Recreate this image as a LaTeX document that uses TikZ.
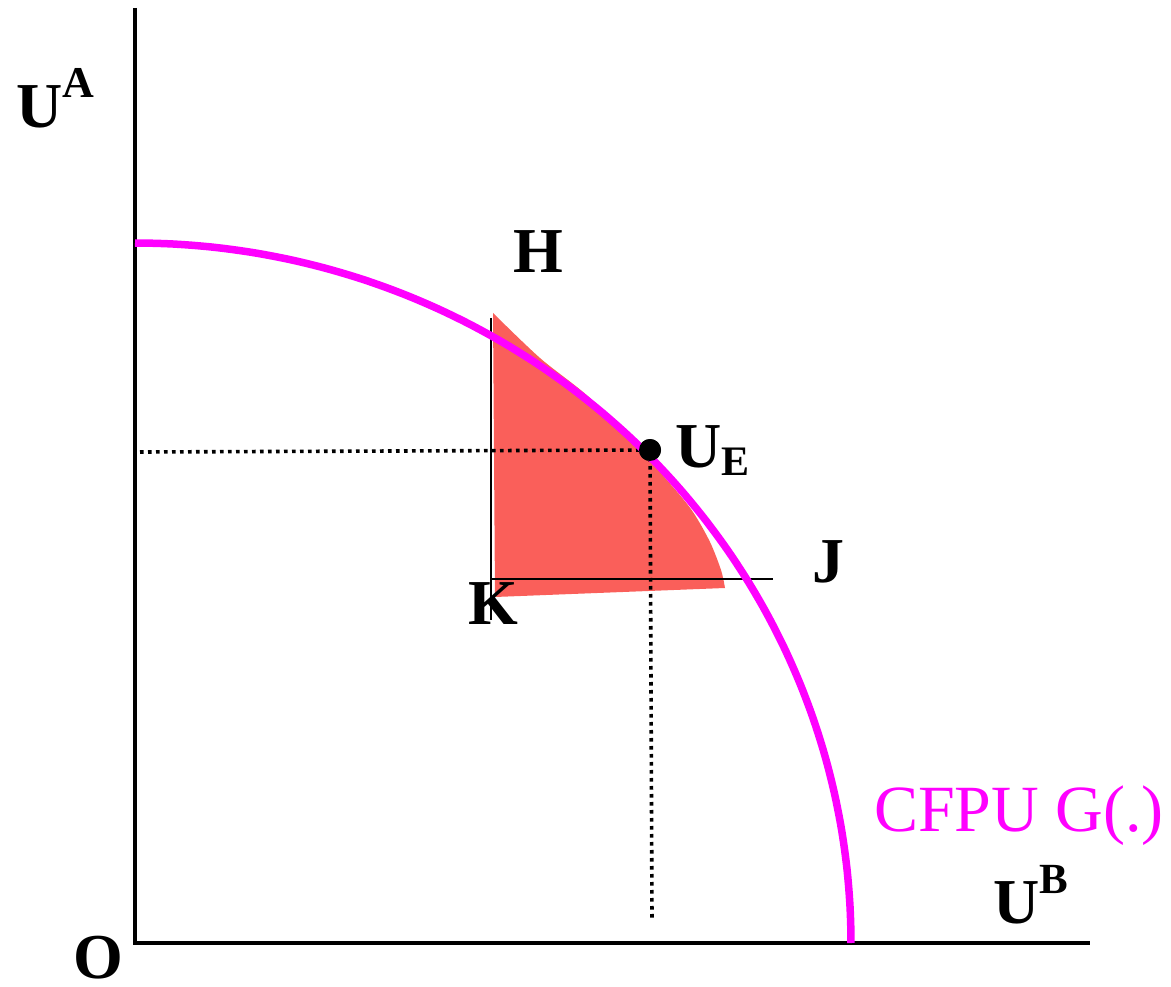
\documentclass[tikz,border=0pt]{standalone}
\usepackage{fontspec}
\setmainfont{Liberation Serif}
\definecolor{mag}{RGB}{255,0,255}
\definecolor{shadered}{RGB}{250,95,90}
\begin{document}
\begin{tikzpicture}[x=1pt,y=-1pt,
 lbl/.style={inner sep=0pt, anchor=base west, font=\fontsize{64}{64}\selectfont\bfseries},
 axis/.style={line width=4pt},
 thinline/.style={line width=1.4pt},
 dotline/.style={line width=3.6pt, dash pattern=on 3.6pt off 4.4pt},
 frontier/.style={line width=7.5pt, mag},
 shade/.style={fill=shadered}]
\useasboundingbox (0,0) rectangle (1171,987);
% shaded region
\fill[shade] plot[smooth] coordinates {(493,313) (540,358) (590,398) (640,450) (673,487) (693,512) (710,542) (721,570) (725,588)} -- (495,597) -- cycle;
% coordinates
\coordinate (O) at (135,943);
\coordinate (Ytop) at (135,8);
\coordinate (Xend) at (1090,943);
\coordinate (Htop) at (491,318);
\coordinate (Kbot) at (491,620);
\coordinate (Kl) at (491,579);
\coordinate (Jend) at (773,579);
\coordinate (Lft) at (140,452);
\coordinate (Ebot) at (652,920);
% axes
\draw[axis] (Ytop) -- (O) -- (Xend);
% thin lines
\draw[thinline] (Htop) -- (Kbot);
\draw[thinline] (Kl) -- (Jend);
% UE point
\node[circle, fill=black, inner sep=0pt, minimum size=22pt] (E) at (650,450) {};
% dotted lines
\draw[dotline] (Lft) -- (E.center);
\draw[dotline] (E.center) -- (Ebot);
% frontier
\draw[frontier] plot[domain=0:90, samples=120, smooth] ({135+716*sin(\x)}, {943-700*cos(\x)});
\fill[black] (E) circle (11pt);
% labels
\node[lbl] (UA) at (16,128) {U\raisebox{30pt}{\fontsize{44}{44}\selectfont A}};
\node[lbl] (UB) at (993,923) {U\raisebox{30pt}{\fontsize{43}{43}\selectfont B}};
\node[lbl] (UE) at (675,467) {U\raisebox{-8pt}{\fontsize{42}{42}\selectfont E}};
\node[lbl] (H) at (513,273) {H};
\node[lbl] (J) at (812,582) {J};
\node[lbl] (K) at (468,624) {K};
\node[lbl] (Olab) at (73,978) {O};
\node[inner sep=0pt, anchor=base west, font=\fontsize{66}{66}\selectfont, text=mag] (G) at (874,831) {CFPU G(.)};
\end{tikzpicture}
\end{document}
